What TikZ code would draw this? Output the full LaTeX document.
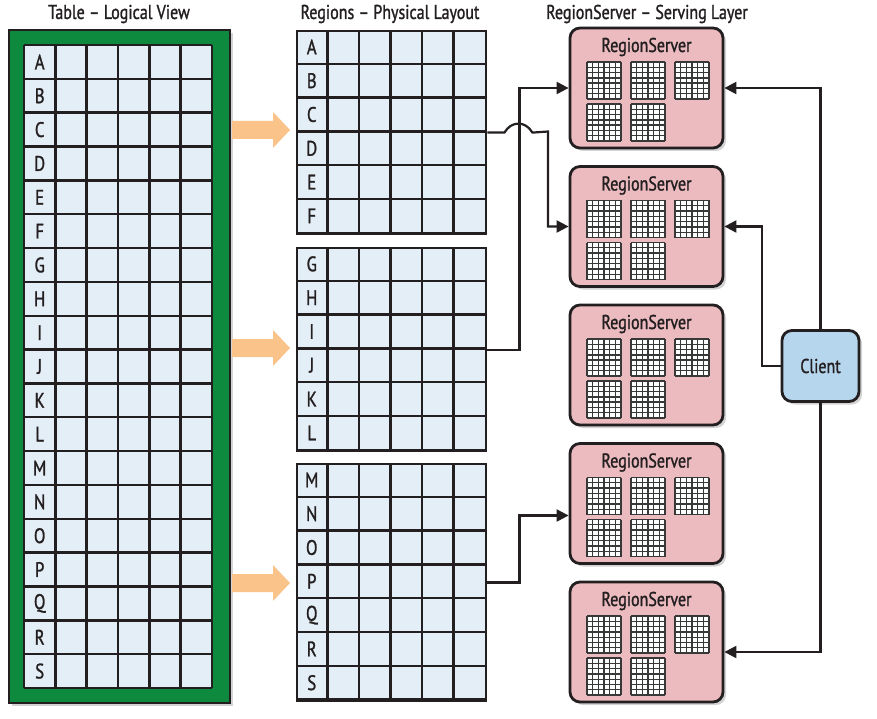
\documentclass[tikz,border=0pt]{standalone}
\usepackage{fontspec}
\setmainfont{PT Sans}[FakeStretch=0.8, FakeBold=1.2]
\usetikzlibrary{shadows,arrows.meta,calc}
\definecolor{cellblue}{HTML}{E4EEF6}
\definecolor{tgreen}{HTML}{0E8A3E}
\definecolor{rspink}{HTML}{EBBBBF}
\definecolor{clblue}{HTML}{B6D6EE}
\definecolor{arrorange}{HTML}{F9C38A}
\definecolor{ink}{HTML}{231F20}
\newcommand\rgrid[4]{%
  \node[draw=ink, line width=2.4pt, fill=cellblue, minimum width=189pt, minimum height=#3*33.8pt, inner sep=0pt, anchor=north west] (#1) at (296,#2) {};
  \foreach \i in {1,...,5} \draw[gridline] (296+\i*31.5,#2) -- ++(0,#3*33.8);
  \foreach \j in {1,...,#3} \draw[gridline] (296,#2+\j*33.8) -- ++(189,0);
  \foreach \l [count=\k from 0] in {#4} \node[lbl] (#1-\k) at (296+15.75,#2+\k*33.8+16.9) {\l};
}
\newcommand\minigrid[2]{%
  \fill[white!92!cellblue] (#1,#2) rectangle ++(34,37);
  \foreach \i in {0,...,6} \draw[mg] (#1+\i*5.667,#2) -- ++(0,37);
  \foreach \j in {0,...,7} \draw[mg] (#1,#2+\j*5.286) -- ++(34,0);
}
\begin{document}
\begin{tikzpicture}[x=1pt,y=-1pt,
  gridline/.style={draw=ink, line width=2.4pt},
  lbl/.style={text=ink, font=\fontsize{21}{24}\selectfont, inner sep=0pt},
  ttl/.style={text=ink, font=\fontsize{20}{24}\selectfont, inner sep=0pt},
  mg/.style={draw=black!78, line width=1.3pt},
  shad/.style={drop shadow={shadow xshift=3pt, shadow yshift=-3pt, opacity=0.35}},
  rs/.style={draw=ink, line width=2.8pt, fill=rspink, rounded corners=10pt, minimum width=153pt, minimum height=120pt, inner sep=0pt, shad},
  cl/.style={draw=ink, line width=2.8pt, fill=clblue, rounded corners=10pt, minimum width=77pt, minimum height=71pt, inner sep=0pt, shad, text=ink, font=\fontsize{20}{24}\selectfont},
  conn/.style={draw=ink, line width=2.2pt},
  tip/.style={-{Triangle[length=12pt,width=12pt]}}
]
\useasboundingbox (0,0) rectangle (877,719);

% titles
\node[ttl] (t1) at (119,14) {Table -- Logical View};
\node[ttl] (t2) at (390,14) {Regions -- Physical Layout};
\node[ttl] (t3) at (647,14) {RegionServer -- Serving Layer};

% logical table
\node[draw=ink, line width=2.4pt, fill=tgreen, minimum width=221pt, minimum height=673pt, inner sep=0pt, anchor=north west, shad] (tbl) at (8,29) {};
\fill[cellblue] (24,45) rectangle (212,688);
\foreach \i in {0,...,6} \draw[gridline] (24+\i*31.333,45) -- ++(0,643);
\foreach \j in {0,...,19} \draw[gridline] (24,45+\j*33.842) -- ++(188,0);
\foreach \l [count=\k from 0] in {A,B,C,D,E,F,G,H,I,J,K,L,M,N,O,P,Q,R,S}
  \node[lbl] (L\k) at (24+15.67,45+\k*33.842+16.92) {\l};

% orange arrows
\foreach \y in {130,348,583}
  \fill[arrorange] (232,\y-9) -- (273,\y-9) -- (273,\y-18) -- (290,\y) -- (273,\y+18) -- (273,\y+9) -- (232,\y+9) -- cycle;

% physical regions
\rgrid{r1}{30}{6}{A,B,C,D,E,F}
\rgrid{r2}{247}{6}{G,H,I,J,K,L}
\rgrid{r3}{463}{7}{M,N,O,P,Q,R,S}

% region servers
\foreach \y [count=\n] in {88,226.5,365,503.5,642} {
  \node[rs] (s\n) at (646.5,\y) {};
  \node[lbl, font=\fontsize{20}{24}\selectfont, anchor=base] (s\n-title) at (646.5,\y-36) {RegionServer};
  \minigrid{587}{\y-26}
  \minigrid{631}{\y-26}
  \minigrid{675}{\y-26}
  \minigrid{587}{\y+16}
  \minigrid{631}{\y+16}
}

% client
\node[cl] (c) at (820.5,366) {Client};

% connectors from regions to servers
\draw[conn, tip] (r1.east) -- ++(17,0) .. controls +(7,-12) and +(-7,-12) .. ++(28,0) -- (548,131.5) |- (s2.west);
\draw[conn, tip] (r2.east) -- ++(32,0) |- (s1.west);
\draw[conn, tip] (r3.east) -- ++(32,0) |- ($(s4.west)+(0,12)$);

% client connectors
\draw[conn, tip] (c.north) |- (s1.east);
\draw[conn, tip] (c.west) -- ++(-19,0) |- (s2.east);
\draw[conn, tip] (c.south) |- ($(s5.east)+(0,10)$);
\end{tikzpicture}
\end{document}
